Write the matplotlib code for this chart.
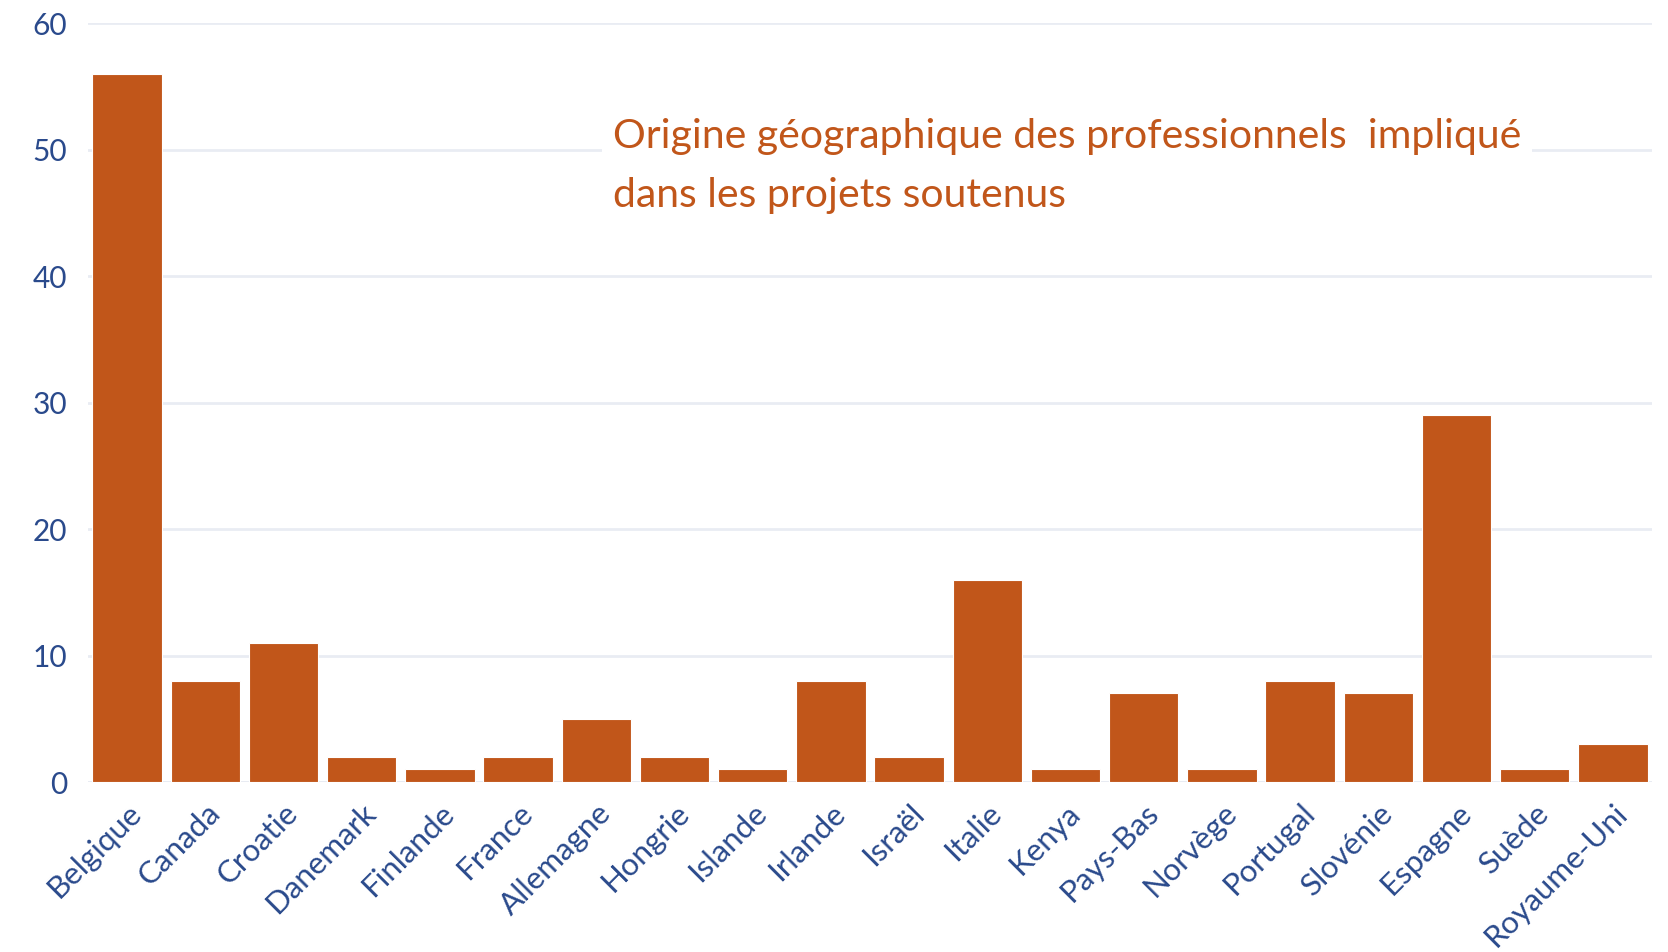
import matplotlib.pyplot as plt

countries = ["Belgique", "Canada", "Croatie", "Danemark", "Finlande", "France",
             "Allemagne", "Hongrie", "Islande", "Irlande", "Israël", "Italie",
             "Kenya", "Pays-Bas", "Norvège", "Portugal", "Slovénie", "Espagne",
             "Suède", "Royaume-Uni"]
values = [56, 8, 11, 2, 1, 2, 5, 2, 1, 8, 2, 16, 1, 7, 1, 8, 7, 29, 1, 3]
yticks = [0, 10, 20, 30, 40, 50, 60]
title = "Origine géographique des professionnels  impliqué\ndans les projets soutenus"

bar_color = "#c1561a"
tick_color = "#2a4a8c"

plt.rcParams["font.family"] = ["Lato", "DejaVu Sans"]

fig = plt.figure(figsize=(16.68, 9.52), dpi=100)
ax = fig.add_axes([88 / 1668, 1 - 782 / 952, (1652 - 88) / 1668, (782 - 23.4) / 952])

x = range(len(countries))
ax.bar(x, values, width=0.885, color=bar_color, edgecolor="white", linewidth=0.8, zorder=2)

ax.set_xlim(-0.5, len(countries) - 0.5)
ax.set_ylim(0, 60)
ax.set_yticks(yticks)
ax.set_yticklabels([str(v) for v in yticks])
ax.set_xticks(list(x))
ax.set_xticklabels(countries, rotation=45, ha="right", rotation_mode="anchor")

ax.grid(axis="y", color="#e9ecf3", linewidth=2, zorder=0)
ax.axhline(0, color="#dde3ef", linewidth=2, zorder=1)
for s in ax.spines.values():
    s.set_visible(False)
ax.tick_params(axis="both", length=0, colors=tick_color)
ax.tick_params(axis="y", labelsize=21.5, pad=15)
ax.tick_params(axis="x", labelsize=22.5, pad=12)

ax.text(0.3355, 0.875, title, transform=ax.transAxes, fontsize=29.5, color=bar_color,
        va="top", ha="left", linespacing=1.72,
        bbox=dict(facecolor="white", edgecolor="none", pad=8), zorder=3)

fig.savefig("out.png", dpi=100)
